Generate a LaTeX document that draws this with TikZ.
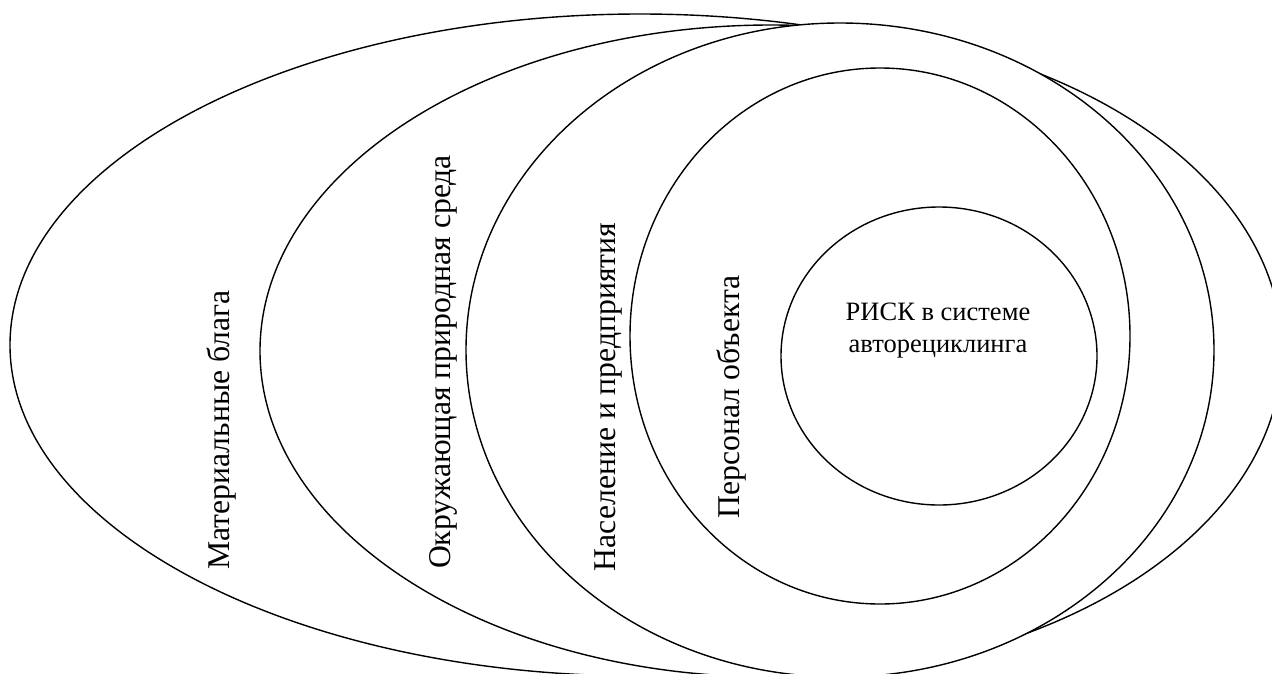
\documentclass[tikz,border=0pt]{standalone}
\usepackage{fontspec}
\setmainfont{Liberation Serif}
\newfontfamily\labelserif{Liberation Serif}
\usetikzlibrary{shapes.geometric}
\begin{document}
\begin{tikzpicture}[x=1pt,y=-1pt,
  oval/.style={ellipse, draw=black, fill=white, line width=1.4pt, inner sep=0pt},
  vlabel/.style={rotate=90, font=\labelserif\fontsize{31.7}{38}\selectfont, inner sep=0pt},
  clabel/.style={align=center, font=\labelserif\fontsize{26.5}{32}\selectfont, inner sep=0pt}]
\useasboundingbox (0,0) rectangle (1272,673);
\fill[white] (0,0) rectangle (1272,673);
\clip (0,0) rectangle (1272,673);
% ovals, back to front
\node[oval, minimum width=1260pt, minimum height=662pt] (mat) at (640,345) {};
\node[oval, minimum width=1022pt, minimum height=652pt] (env) at (771,351) {};
\node[oval, minimum width=748pt, minimum height=654pt] (pop) at (840,350) {};
\node[oval, minimum width=500pt, minimum height=536pt] (staff) at (880,336) {};
\node[oval, minimum width=316pt, minimum height=298pt] (risk) at (939,356) {};
% labels
\node[vlabel] (lmat) at (222,430) {Материальные блага};
\node[vlabel] (lenv) at (443,362) {Окружающая природная среда};
\node[vlabel] (lpop) at (608,397) {Население и предприятия};
\node[vlabel] (lstaff) at (732,397) {Персонал объекта};
\node[clabel] (lrisk) at (938,331) {РИСК в системе\\авторециклинга};
\end{tikzpicture}
\end{document}
